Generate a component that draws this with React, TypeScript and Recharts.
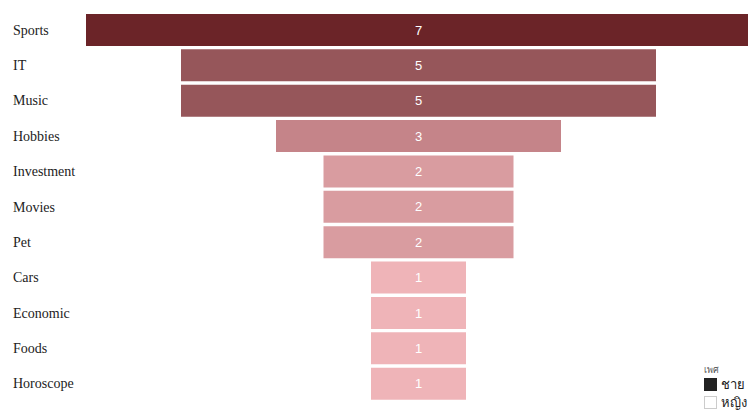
import React from "react";
import { BarChart, Bar, XAxis, YAxis, LabelList, Cell } from "recharts";

const categories = ["Sports", "IT", "Music", "Hobbies", "Investment", "Movies", "Pet", "Cars", "Economic", "Foods", "Horoscope"];
const counts = [7, 5, 5, 3, 2, 2, 2, 1, 1, 1, 1];
const maxCount = 7;
const colorByCount: Record<number, string> = {
  7: "#6b2428",
  5: "#96565a",
  3: "#c58489",
  2: "#d99ca0",
  1: "#efb4b8",
};
const legendTitle = "เพศ";
const legendItems = [
  { name: "ชาย", fill: "#222222", stroke: "#222222" },
  { name: "หญิง", fill: "#ffffff", stroke: "#cccccc" },
];

const data = categories.map((c, i) => ({
  name: c,
  offset: (maxCount - counts[i]) / 2,
  value: counts[i],
}));

const CatTick = (props: any) => {
  const { y, payload } = props;
  return (
    <text x={5} y={y} dy={5} textAnchor="start" fill="#222" fontSize={14} fontFamily="'Liberation Serif', 'Times New Roman', serif">
      {payload.value}
    </text>
  );
};

const LegendBox = () => (
  <div style={{ position: "absolute", left: 696, top: 356, fontFamily: "'Noto Sans', 'DejaVu Sans', sans-serif", color: "#222" }}>
    <div style={{ fontSize: 9, color: "#555", lineHeight: "11px" }}>{legendTitle}</div>
    {legendItems.map((it) => (
      <div key={it.name} style={{ display: "flex", alignItems: "center", height: 18 }}>
        <div style={{ width: 11, height: 11, background: it.fill, border: `1px solid ${it.stroke}`, marginRight: 4 }} />
        <span style={{ fontSize: 13 }}>{it.name}</span>
      </div>
    ))}
  </div>
);

export default function App() {
  return (
    <div style={{ width: 748, height: 411, position: "relative" }}>
      <BarChart
        width={748}
        height={411}
        data={data}
        layout="vertical"
        margin={{ top: 4, right: 5, bottom: 18, left: 0 }}
        barSize={32}
      >
        <XAxis type="number" domain={[0, maxCount]} hide />
        <YAxis
          type="category"
          dataKey="name"
          width={78}
          axisLine={false}
          tickLine={false}
          tick={<CatTick />}
          interval={0}
        />
        <Bar dataKey="offset" stackId="a" fill="transparent" isAnimationActive={false} />
        <Bar dataKey="value" stackId="a" isAnimationActive={false}>
          {data.map((d) => (
            <Cell key={d.name} fill={colorByCount[d.value]} />
          ))}
          <LabelList
            dataKey="value"
            position="center"
            fill="#ffffff"
            fontSize={13}
            fontFamily="'Liberation Sans', Arial, sans-serif"
          />
        </Bar>
      </BarChart>
      <LegendBox />
    </div>
  );
}
